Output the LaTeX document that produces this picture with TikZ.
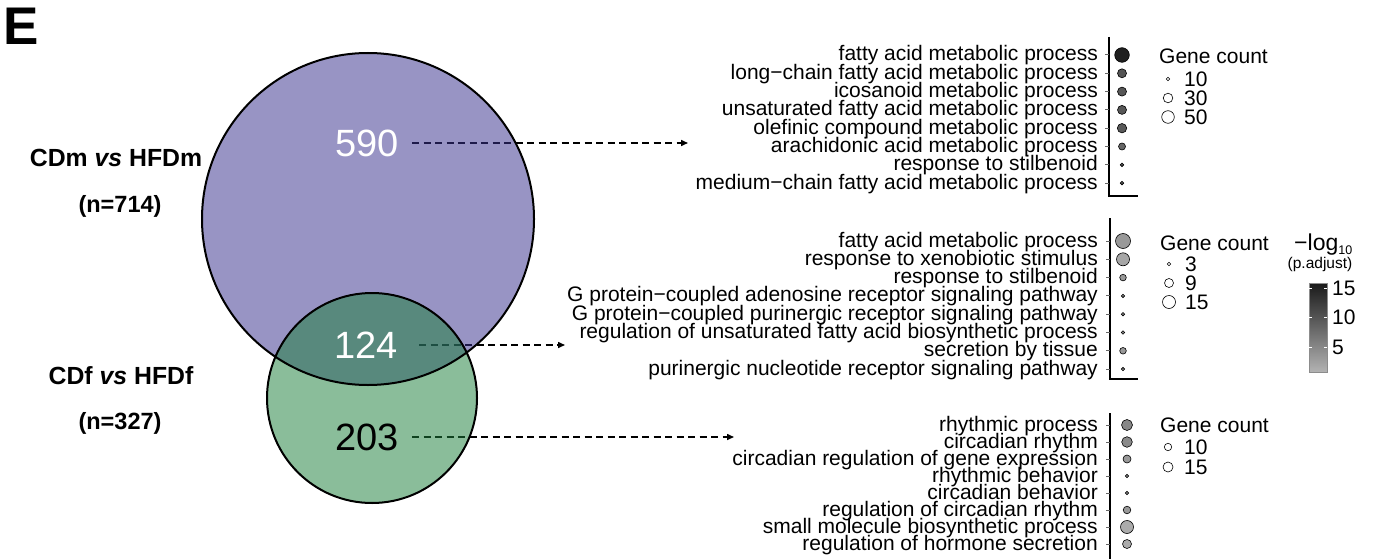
\documentclass[tikz,border=0pt]{standalone}
\usepackage{fontspec}
\setmainfont{Liberation Sans}
\usepackage{xcolor}
\definecolor{venpurp}{RGB}{58,50,142}
\definecolor{vengreen}{RGB}{30,128,61}
\usepackage{tikz}
\usetikzlibrary{positioning,arrows.meta,backgrounds}
\pgfdeclarelayer{back}
\pgfsetlayers{back,main}
\tikzset{
    panel/.style={
    anchor=base west,inner sep=0pt,font=\fontsize{53}{53}\selectfont\bfseries
    },
    setlab/.style={
    inner sep=0pt,font=\fontsize{23.5}{23.5}\selectfont\bfseries
    },
    count/.style={
    inner sep=3.3pt,font=\fontsize{38}{38}\selectfont
    },
    ring/.style={draw=black,line width=2pt},
    link/.style={draw=black,line width=1.5pt,dash pattern=on 7pt off 4.5pt,-{Triangle[length=7pt,width=6pt]}},
    term/.style={anchor=base east,inner sep=0pt,font=\fontsize{21}{21}\selectfont},
    legtxt/.style={anchor=base west,inner sep=0pt,font=\fontsize{21}{21}\selectfont},
    gdot/.style={circle,draw=black,line width=0.6pt,inner sep=0pt,minimum size=#1},
    axis/.style={draw=black,line width=1.6pt},
    tick/.style={draw=black!60,line width=1pt}
}
\begin{document}
\begin{tikzpicture}[x=1pt,y=-1pt]
    \useasboundingbox (0,0) rectangle (1380,559);

    \node[panel] (lbl) at (3,45) {E};

    \node[setlab,font=\fontsize{24.8}{24.8}\selectfont\bfseries] (cdm) at (116,158) {CDm \textit{vs} HFDm};
    \node[setlab] (nm) at (120,206) {(n=714)};
    \node[setlab,font=\fontsize{24.8}{24.8}\selectfont\bfseries] (cdf) at (121,376) {CDf \textit{vs} HFDf};
    \node[setlab] (nf) at (120,423) {(n=327)};

    % venn
    \fill[venpurp,fill opacity=0.52] (368,219) circle[radius=166pt];
    \fill[vengreen,fill opacity=0.52] (372,398) circle[radius=105pt];
    \draw[ring] (368,219) circle[radius=166pt];
    \draw[ring] (372,398) circle[radius=105pt];

    \node[count,text=white] (n590) at (367,143) {590};
    \node[count,text=white] (n124) at (366,345) {124};
    \node[count] (n203) at (367,437) {203};

    \coordinate (e590) at (688,143);
    \coordinate (e124) at (565,345);
    \coordinate (e203) at (734,437);

    \begin{pgfonlayer}{back}
      \path[link,shorten <=10pt] (n590.east) -- (e590);
      \path[link,shorten <=18pt] (n124.east) -- (e124);
      \path[link,shorten <=10pt] (n203.east) -- (e203);
    \end{pgfonlayer}

    % first panel
    \node[term] (pa1) at (1098,61) {fatty acid metabolic process};
    \node[term] (pa2) at (1098,79.3) {long−chain fatty acid metabolic process};
    \node[term] (pa3) at (1098,97.6) {icosanoid metabolic process};
    \node[term] (pa4) at (1098,115.9) {unsaturated fatty acid metabolic process};
    \node[term] (pa5) at (1098,134.2) {olefinic compound metabolic process};
    \node[term] (pa6) at (1098,152.5) {arachidonic acid metabolic process};
    \node[term] (pa7) at (1098,170.8) {response to stilbenoid};
    \node[term] (pa8) at (1098,189.1) {medium−chain fatty acid metabolic process};
    \draw[axis] (1109,37) -- (1109,196) -- (1138,196);
    \draw[tick] (1105,55) -- (1109,55) (1105,73.3) -- (1109,73.3) (1105,91.6) -- (1109,91.6) (1105,109.9) -- (1109,109.9)
      (1105,128.2) -- (1109,128.2) (1105,146.5) -- (1109,146.5) (1105,164.8) -- (1109,164.8) (1105,183.1) -- (1109,183.1);
    \node[gdot=14.6pt,fill=black!88] (da1) at (1122,55) {};
    \node[gdot=9pt,fill=black!67] (da2) at (1122,73.3) {};
    \node[gdot=9pt,fill=black!66] (da3) at (1122,91.6) {};
    \node[gdot=9pt,fill=black!66] (da4) at (1122,109.9) {};
    \node[gdot=9.4pt,fill=black!65] (da5) at (1122,128.2) {};
    \node[gdot=7pt,fill=black!60] (da6) at (1122,146.5) {};
    \node[gdot=3.6pt,fill=black!67] (da7) at (1122,164.8) {};
    \node[gdot=3.6pt,fill=black!67] (da8) at (1122,183.1) {};

    \node[legtxt] (ga) at (1159,64) {Gene count};
    \node[gdot=3.6pt,fill=white] (ga1) at (1168,79) {};
    \node[gdot=9.6pt,fill=white] (ga2) at (1168,98) {};
    \node[gdot=12.6pt,fill=white] (ga3) at (1168,117) {};
    \node[legtxt] (la1) at (1184,86.5) {10};
    \node[legtxt] (la2) at (1184,105.5) {30};
    \node[legtxt] (la3) at (1184,124.5) {50};

    % second panel
    \node[term] (pb1) at (1098,247) {fatty acid metabolic process};
    \node[term] (pb2) at (1098,265.3) {response to xenobiotic stimulus};
    \node[term] (pb3) at (1098,283.6) {response to stilbenoid};
    \node[term] (pb4) at (1098,301.9) {G protein−coupled adenosine receptor signaling pathway};
    \node[term] (pb5) at (1098,320.2) {G protein−coupled purinergic receptor signaling pathway};
    \node[term] (pb6) at (1098,338.5) {regulation of unsaturated fatty acid biosynthetic process};
    \node[term] (pb7) at (1098,356.8) {secretion by tissue};
    \node[term] (pb8) at (1098,375.1) {purinergic nucleotide receptor signaling pathway};
    \draw[axis] (1110,218) -- (1110,379) -- (1138,379);
    \draw[tick] (1106,241) -- (1110,241) (1106,259.3) -- (1110,259.3) (1106,277.6) -- (1110,277.6) (1106,295.9) -- (1110,295.9)
      (1106,314.2) -- (1110,314.2) (1106,332.5) -- (1110,332.5) (1106,350.8) -- (1110,350.8) (1106,369.1) -- (1110,369.1);
    \node[gdot=15pt,fill=black!40] (db1) at (1123,241) {};
    \node[gdot=13pt,fill=black!35] (db2) at (1123,259.3) {};
    \node[gdot=6.6pt,fill=black!40] (db3) at (1123,277.6) {};
    \node[gdot=3.4pt,fill=black!47] (db4) at (1123,295.9) {};
    \node[gdot=3.4pt,fill=black!47] (db5) at (1123,314.2) {};
    \node[gdot=3.4pt,fill=black!47] (db6) at (1123,332.5) {};
    \node[gdot=6.6pt,fill=black!40] (db7) at (1123,350.8) {};
    \node[gdot=3.4pt,fill=black!47] (db8) at (1123,369.1) {};

    \node[legtxt] (gb) at (1160,250) {Gene count};
    \node[gdot=3.4pt,fill=white] (gb1) at (1169,264) {};
    \node[gdot=9pt,fill=white] (gb2) at (1169,283) {};
    \node[gdot=13pt,fill=white] (gb3) at (1169,302) {};
    \node[legtxt] (lb1) at (1185,271.5) {3};
    \node[legtxt] (lb2) at (1185,290.5) {9};
    \node[legtxt] (lb3) at (1185,309.5) {15};

    % colour key
    \node[legtxt,font=\fontsize{23}{23}\selectfont] (ttl) at (1294,250) {−log\raisebox{-4.5pt}{\fontsize{12.5}{12.5}\selectfont 10}};
    \node[inner sep=0pt,font=\fontsize{15.5}{15.5}\selectfont] (padj) at (1320,264) {(p.adjust)};
    \shade[top color=black!90,bottom color=black!30,draw=black!45,line width=0.5pt] (1309,283) rectangle (1327,372);
    \draw[white,line width=0.8pt] (1309,288) -- (1312,288) (1324,288) -- (1327,288) (1309,317) -- (1312,317) (1324,317) -- (1327,317)
      (1309,347) -- (1312,347) (1324,347) -- (1327,347);
    \node[legtxt] (k15) at (1332,295) {15};
    \node[legtxt] (k10) at (1332,324) {10};
    \node[legtxt] (k5) at (1332,354) {5};

    % third panel
    \node[term] (pc1) at (1098,431) {rhythmic process};
    \node[term] (pc2) at (1098,448) {circadian rhythm};
    \node[term] (pc3) at (1098,465) {circadian regulation of gene expression};
    \node[term] (pc4) at (1098,482) {rhythmic behavior};
    \node[term] (pc5) at (1098,499) {circadian behavior};
    \node[term] (pc6) at (1098,516) {regulation of circadian rhythm};
    \node[term] (pc7) at (1098,533) {small molecule biosynthetic process};
    \node[term] (pc8) at (1098,550) {regulation of hormone secretion};
    \draw[axis] (1110,413) -- (1110,559);
    \draw[tick] (1106,425) -- (1110,425) (1106,442) -- (1110,442) (1106,459) -- (1110,459) (1106,476) -- (1110,476)
      (1106,493) -- (1110,493) (1106,510) -- (1110,510) (1106,527) -- (1110,527) (1106,544) -- (1110,544);
    \node[gdot=11pt,fill=black!47] (dc1) at (1127,425) {};
    \node[gdot=10.6pt,fill=black!46] (dc2) at (1127,442) {};
    \node[gdot=8pt,fill=black!40] (dc3) at (1127,459) {};
    \node[gdot=3.4pt,fill=black!53] (dc4) at (1127,476) {};
    \node[gdot=3.4pt,fill=black!53] (dc5) at (1127,493) {};
    \node[gdot=7.6pt,fill=black!40] (dc6) at (1127,510) {};
    \node[gdot=13pt,fill=black!33] (dc7) at (1127,527) {};
    \node[gdot=9pt,fill=black!33] (dc8) at (1127,544) {};

    \node[legtxt] (gc) at (1160,432.5) {Gene count};
    \node[gdot=7.4pt,fill=white] (gc1) at (1168,447) {};
    \node[gdot=10pt,fill=white] (gc2) at (1168,467) {};
    \node[legtxt] (lc1) at (1184,454.5) {10};
    \node[legtxt] (lc2) at (1184,474.5) {15};
  \end{tikzpicture}
\end{document}
